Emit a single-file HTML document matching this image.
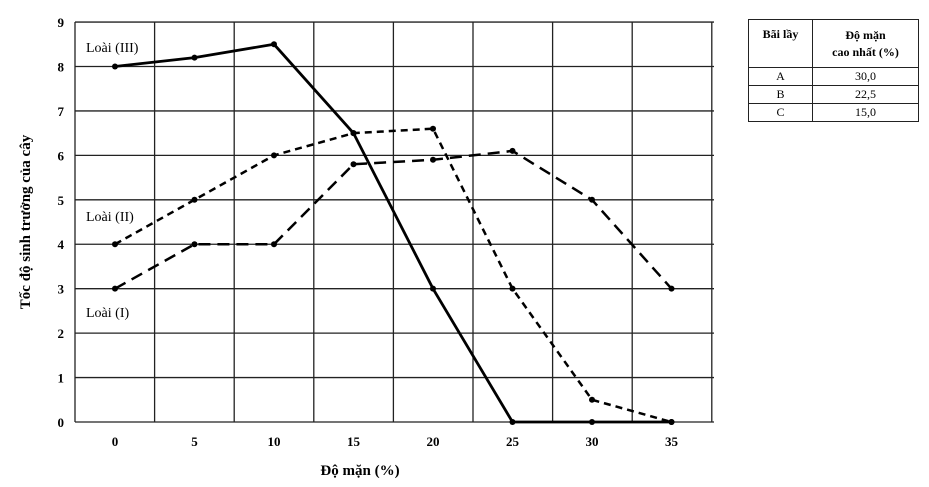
<!DOCTYPE html>
<html><head><meta charset="utf-8"><style>
body{margin:0;background:#fff;width:929px;height:487px;overflow:hidden;font-family:"Liberation Serif",serif}
table{position:absolute;left:748px;top:19px;border-collapse:collapse;font-size:12px;font-family:"Liberation Serif",serif}
td{border:1.5px solid #222;text-align:center;padding:0;line-height:17px}
</style></head><body>
<svg width="929" height="487" style="position:absolute;left:0;top:0">
<g id="grid"></g><g id="series"></g><g id="labels"></g>
</svg>
<table>
<tr style="height:48px"><td style="width:63px;font-weight:bold;vertical-align:top;padding-top:6px">Bãi lầy</td><td style="width:105px;font-weight:bold">Độ mặn<br>cao nhất (%)</td></tr>
<tr><td>A</td><td>30,0</td></tr>
<tr><td>B</td><td>22,5</td></tr>
<tr><td>C</td><td>15,0</td></tr>
</table>
<script>
const categories=[0,5,10,15,20,25,30,35];
const yTicks=[0,1,2,3,4,5,6,7,8,9];
const loaiIII=[8,8.2,8.5,6.5,3,0,0,0];
const loaiII=[4,5,6,6.5,6.6,3,0.5,0];
const loaiI=[3,4,4,5.8,5.9,6.1,5,3];
const NS='http://www.w3.org/2000/svg';
const X=v=>115+v*15.9, Y=v=>422-v*44.44;
function mk(t,a,p){const e=document.createElementNS(NS,t);for(const k in a)e.setAttribute(k,a[k]);p.appendChild(e);return e;}
const g=document.getElementById('grid'),s=document.getElementById('series'),lb=document.getElementById('labels');
for(let i=0;i<=categories.length;i++){const x=X(categories[0])-40+i*79.6;
const l=mk('line',{x1:x,x2:x,y1:Y(9),y2:Y(0),stroke:'#222','stroke-width':1.3},g);

}
yTicks.forEach(v=>{const l=mk('line',{x1:75,x2:714,y1:Y(v),y2:Y(v),stroke:'#222','stroke-width':1.3},g);


const t=mk('text',{x:64,y:Y(v)+5,'text-anchor':'end','font-size':13,'font-weight':'bold'},lb);t.textContent=v;

});
categories.forEach(c=>{const t=mk('text',{x:X(c),y:446,'text-anchor':'middle','font-size':13,'font-weight':'bold'},lb);t.textContent=c;

});
function series(d,dash,w,name){const p=mk('polyline',{points:d.map((v,i)=>X(categories[i])+','+Y(v)).join(' '),fill:'none',stroke:'#000','stroke-width':w,'stroke-dasharray':dash},s);


d.forEach((v,i)=>{const c=mk('circle',{cx:X(categories[i]),cy:Y(v),r:3,fill:'#000'},s);

});}
series(loaiI,'12,7',2.5,'loai-i');
series(loaiII,'7,5',2.5,'loai-ii');
series(loaiIII,'',2.8,'loai-iii');
[['Loài (III)',86,52],['Loài (II)',86,221],['Loài (I)',86,317]].forEach(([t,x,y])=>{const e=mk('text',{x:x,y:y,'font-size':14},lb);e.textContent=t;

});
const xt=mk('text',{x:360,y:475,'text-anchor':'middle','font-size':15,'font-weight':'bold'},lb);xt.textContent='Độ mặn (%)';


const yt=mk('text',{x:0,y:0,'text-anchor':'middle','font-size':15,'font-weight':'bold',transform:'translate(30,222) rotate(-90)'},lb);yt.textContent='Tốc độ sinh trưởng của cây';


</script>
</body></html>
